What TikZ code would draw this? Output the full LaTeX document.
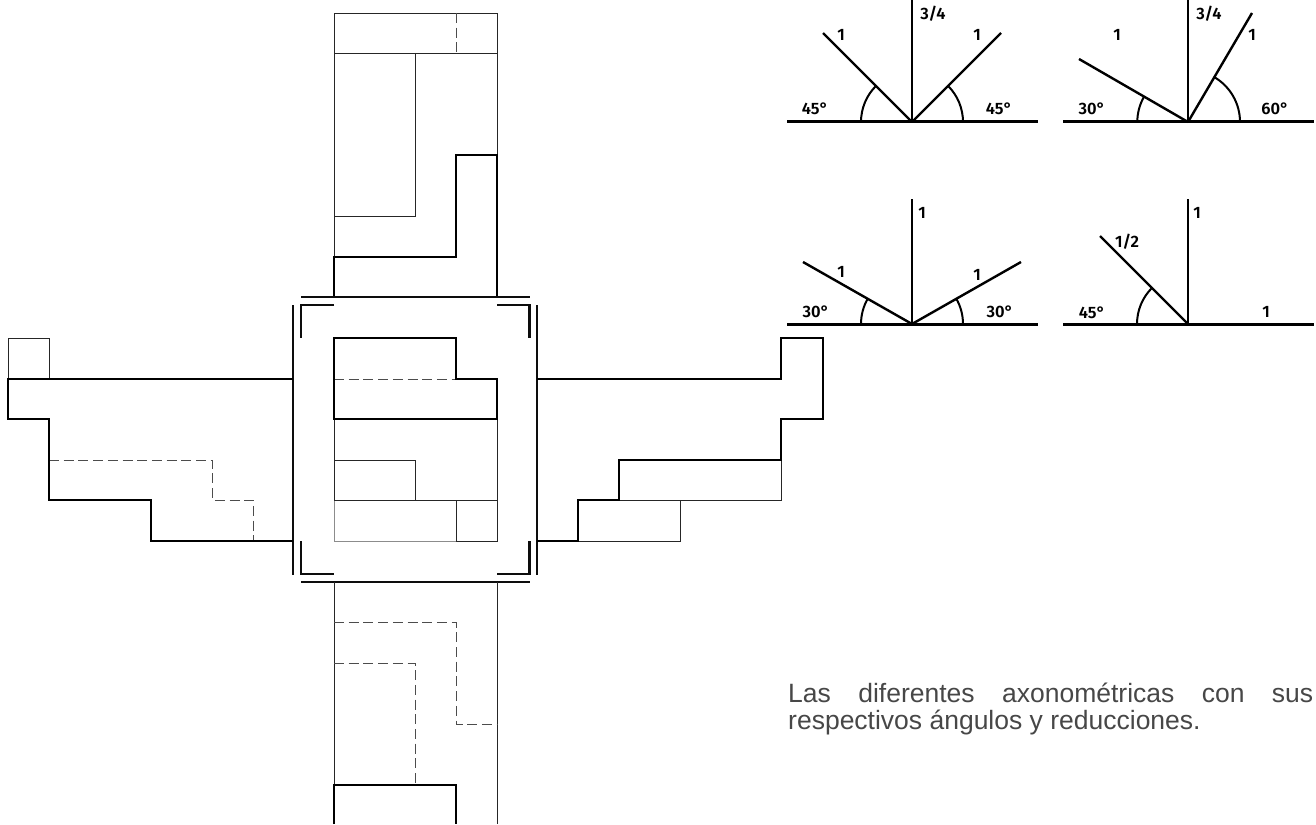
\documentclass[tikz,border=0pt]{standalone}
\usepackage{fontspec}
\setmainfont{Liberation Sans}
\newfontfamily\cadfont{Fira Sans}[UprightFont=* SemiBold]
\tikzset{
  thin line/.style={line width=0.95pt,black!85},
  thick line/.style={line width=2.4pt,black,line join=miter},
  frame line/.style={line width=2.4pt,black!95},
  frame side/.style={line width=2.4pt,black!95},
  dash line/.style={line width=0.95pt,black!70,dash pattern=on 10pt off 4.7pt},
  pale line/.style={line width=0.95pt,black!45},
  axis line/.style={line width=2.4pt,black},
  ground line/.style={line width=3pt,black},
  arc line/.style={line width=2pt,black},
  cad/.style={inner sep=0pt,font=\cadfont\fontsize{16.5}{17}\selectfont},
  caption/.style={inner sep=0pt,anchor=base west,text=black!72,font=\fontsize{26.5}{27}\selectfont},
}
\begin{document}
\begin{tikzpicture}[x=1pt,y=-1pt]
\useasboundingbox (0,0) rectangle (1316,824);
% top view
\draw[thin line] (334,13) rectangle (497,297);
\draw[thin line] (334,53) -- (497,53);
\draw[dash line] (456,13) -- (456,53);
\draw[thin line] (415,53) -- (415,216) -- (334,216);
\draw[thick line] (334,297) -- (334,257) -- (456,257) -- (456,155) -- (497,155) -- (497,297);
% central frame
\draw[frame line] (301,297) -- (530,297);
\draw[frame line] (301,582) -- (530,582);
\draw[frame side] (293,305) -- (293,575);
\draw[frame side] (537,305) -- (537,575);
\draw[frame line] (334,305) -- (301,305) -- (301,338);
\draw[frame line] (497,305) -- (529.5,305) -- (529.5,338);
\draw[frame line] (301,541) -- (301,574) -- (334,574);
\draw[frame line] (529.5,541) -- (529.5,574) -- (497,574);
% central view
\draw[thin line] (334,419) -- (334,500);
\draw[thin line] (497,419) -- (497,541) -- (456,541);
\draw[pale line] (456,541) -- (334,541) -- (334,500);
\draw[thin line] (334,460) -- (415,460) -- (415,500);
\draw[thin line] (334,500) -- (497,500);
\draw[thin line] (456,500) -- (456,541);
\draw[dash line] (334,379) -- (456,379);
\draw[thick line] (334,338) -- (456,338) -- (456,379) -- (497,379) -- (497,419) -- (334,419) -- cycle;
% left view
\draw[thin line] (8,379) -- (8,338) -- (49,338) -- (49,379);
\draw[dash line] (49,460) -- (212,460) -- (212,500) -- (253,500) -- (253,541);
\draw[thick line] (293,379) -- (8,379) -- (8,419) -- (49,419) -- (49,500) -- (151,500) -- (151,541) -- (293,541);
% right view
\draw[thin line] (781,460) -- (781,500) -- (619,500);
\draw[thin line] (578,541) -- (680,541) -- (680,500);
\draw[thick line] (537,379) -- (781,379) -- (781,338) -- (823,338) -- (823,419) -- (781,419) -- (781,460) -- (619,460) -- (619,500) -- (578,500) -- (578,541) -- (537,541);
% bottom view
\draw[thin line] (334,582) -- (334,785);
\draw[thin line] (497,582) -- (497,824);
\draw[dash line] (334,622) -- (456,622) -- (456,724) -- (497,724);
\draw[dash line] (334,663) -- (415,663) -- (415,785);
\draw[thick line] (334,824) -- (334,785) -- (456,785) -- (456,824);
% axonometric A
\coordinate (oa) at (912,122);
\draw[ground line] (787,122) -- (1038,122);
\draw[axis line] (oa) -- (912,0);
\draw[axis line] (oa) -- (823,33);
\draw[axis line] (oa) -- (1001,33);
\draw[arc line] (861,122) arc[start angle=180,end angle=225,radius=51];
\draw[arc line] (963,122) arc[start angle=0,end angle=-45,radius=51];
\node[cad] (a1) at (841,35) {1};
\node[cad] (a2) at (977,35) {1};
\node[cad] (a3) at (933,14) {3/4};
\node[cad] (a4) at (815,109) {45°};
\node[cad] (a5) at (999,109) {45°};
% axonometric B
\coordinate (ob) at (1188,122);
\draw[ground line] (1063,122) -- (1314,122);
\draw[axis line] (ob) -- (1188,0);
\draw[axis line] (ob) -- (1079,59);
\draw[axis line] (ob) -- (1252,13);
\draw[arc line] (1137.3,122) arc[start angle=180,end angle=210,radius=51];
\draw[arc line] (1240,122) arc[start angle=0,end angle=-60,radius=52];
\node[cad] (b1) at (1117,35) {1};
\node[cad] (b2) at (1252,35) {1};
\node[cad] (b3) at (1209,14) {3/4};
\node[cad] (b4) at (1092,109) {30°};
\node[cad] (b5) at (1275,109) {60°};
% axonometric C
\coordinate (oc) at (912,324);
\draw[ground line] (787,324) -- (1038,324);
\draw[axis line] (oc) -- (912,199);
\draw[axis line] (oc) -- (803,262);
\draw[axis line] (oc) -- (1021,262);
\draw[arc line] (861,324) arc[start angle=180,end angle=210,radius=51];
\draw[arc line] (963,324) arc[start angle=0,end angle=-30,radius=51];
\node[cad] (c1) at (841,272) {1};
\node[cad] (c2) at (977,275) {1};
\node[cad] (c3) at (922,213) {1};
\node[cad] (c4) at (816,312) {30°};
\node[cad] (c5) at (1000,312) {30°};
% axonometric D
\coordinate (od) at (1188,324);
\draw[ground line] (1063,324) -- (1314,324);
\draw[axis line] (od) -- (1188,199);
\draw[axis line] (od) -- (1100,236);
\draw[arc line] (1137,324) arc[start angle=180,end angle=225,radius=51];
\node[cad] (d1) at (1197,213) {1};
\node[cad] (d2) at (1127,242) {1/2};
\node[cad] (d3) at (1092,313) {45°};
\node[cad] (d4) at (1266,312) {1};
% caption
\node[caption] (capa) at (788,702) {\hbox to 525pt{Las\hfil diferentes\hfil axonométricas\hfil con\hfil sus}};
\node[caption] (capb) at (788,729) {respectivos ángulos y reducciones.};
\end{tikzpicture}
\end{document}
